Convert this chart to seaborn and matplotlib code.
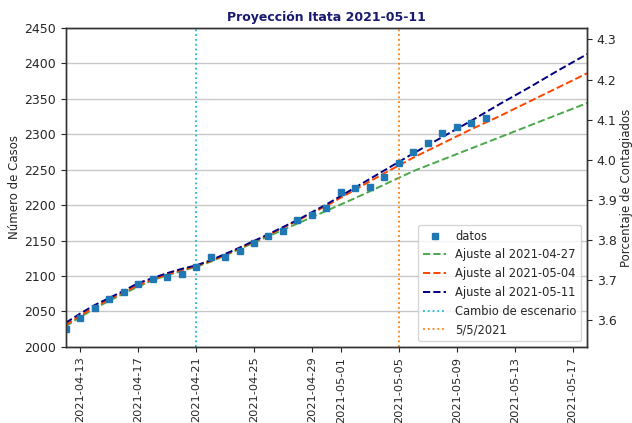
import matplotlib

matplotlib.use("Agg")
import matplotlib.dates as mdates
import matplotlib.pyplot as plt
import numpy as np
import pandas as pd
import seaborn as sns

# observed cases
data_dates = pd.date_range("2021-04-12", "2021-05-11", freq="D")
data_cases = [2025, 2041, 2055, 2067, 2078, 2089, 2096, 2099, 2103, 2113,
              2127, 2127, 2135, 2146, 2156, 2163, 2179, 2186, 2196, 2219,
              2224, 2226, 2240, 2259, 2275, 2288, 2302, 2310, 2316, 2323]

# fitted curves
fit_dates = pd.to_datetime([
    "2021-04-12", "2021-04-13", "2021-04-14", "2021-04-15", "2021-04-16",
    "2021-04-17", "2021-04-18", "2021-04-19", "2021-04-20", "2021-04-21",
    "2021-04-22", "2021-04-24", "2021-04-26", "2021-04-28", "2021-04-30",
    "2021-05-02", "2021-05-04", "2021-05-06", "2021-05-08", "2021-05-10",
    "2021-05-12", "2021-05-14", "2021-05-16", "2021-05-18",
])
fit_0427 = [2029, 2042, 2054, 2065, 2075, 2085, 2094, 2101, 2107, 2113,
            2120, 2138, 2156, 2174, 2192, 2210, 2229, 2248, 2264, 2280,
            2296, 2312, 2328, 2344]
fit_0504 = [2031, 2044, 2056, 2067, 2077, 2087, 2095, 2102, 2108, 2114,
            2121, 2139, 2158, 2178, 2199, 2222, 2245, 2267, 2287, 2307,
            2326, 2346, 2366, 2386]
fit_0511 = [2034, 2047, 2059, 2069, 2079, 2090, 2097, 2104, 2110, 2115,
            2122, 2140, 2159, 2179, 2201, 2225, 2249, 2273, 2296, 2319,
            2343, 2366, 2390, 2413]

scenario_change = pd.Timestamp("2021-04-21")
mark_date = pd.Timestamp("2021-05-05")
population = 56600

sns.set_style("ticks")
plt.rcParams["font.family"] = ["DejaVu Sans"]

fig = plt.figure(figsize=(6.32, 4.23), dpi=100)
ax = fig.add_axes([0.104, 0.180, 0.825, 0.754])

ax.grid(axis="y", color="#c8c8c8", linewidth=1.0)

fits = pd.DataFrame({"fecha": fit_dates, "a": fit_0427, "b": fit_0504, "c": fit_0511})
sns.lineplot(data=fits, x="fecha", y="a", ax=ax, color="#4aa84a",
             linestyle="--", linewidth=1.4, label="Ajuste al 2021-04-27")
sns.lineplot(data=fits, x="fecha", y="b", ax=ax, color="orangered",
             linestyle="--", linewidth=1.4, label="Ajuste al 2021-05-04")
sns.lineplot(data=fits, x="fecha", y="c", ax=ax, color="navy",
             linestyle="--", linewidth=1.4, label="Ajuste al 2021-05-11")
ax.plot(data_dates, data_cases, "s", color="tab:blue",
        markersize=4.8, label="datos", zorder=3)
ax.axvline(scenario_change, color="tab:cyan", linestyle=":",
           linewidth=1.3, label="Cambio de escenario")
ax.axvline(mark_date, color="tab:orange", linestyle=":",
           linewidth=1.3, label="5/5/2021")

ax.set_xlim(pd.Timestamp("2021-04-12"), pd.Timestamp("2021-05-18"))
ax.set_ylim(2000, 2450)
ax.set_xlabel("")
ax.set_ylabel("Número de Casos", fontsize=8.5, labelpad=2)
ax.xaxis.set_major_locator(mdates.AutoDateLocator())
ax.xaxis.set_major_formatter(mdates.DateFormatter("%Y-%m-%d"))
ax.tick_params(axis="x", labelrotation=90, labelsize=8.2)
ax.tick_params(axis="y", labelsize=9)
ax.set_title("Proyección Itata 2021-05-11", fontsize=9, fontweight="bold",
             color="midnightblue", pad=5)

ax2 = ax.twinx()
lo, hi = ax.get_ylim()
ax2.set_ylim(lo * 100 / population, hi * 100 / population)
ax2.set_ylabel("Porcentaje de Contagiados", fontsize=8.5, labelpad=2)
ax2.tick_params(axis="y", labelsize=9)

handles, labels = ax.get_legend_handles_labels()
lines = {l: h for h, l in zip(handles, labels)}
order = ["datos", "Ajuste al 2021-04-27", "Ajuste al 2021-05-04",
         "Ajuste al 2021-05-11", "Cambio de escenario", "5/5/2021"]
ax.legend([lines[k] for k in order], order, loc="lower right", fontsize=8.3)

for a in (ax, ax2):
    for s in a.spines.values():
        s.set_color("#333333")
        s.set_linewidth(1.0)

fig.savefig("out.png", dpi=100)
plt.close(fig)
